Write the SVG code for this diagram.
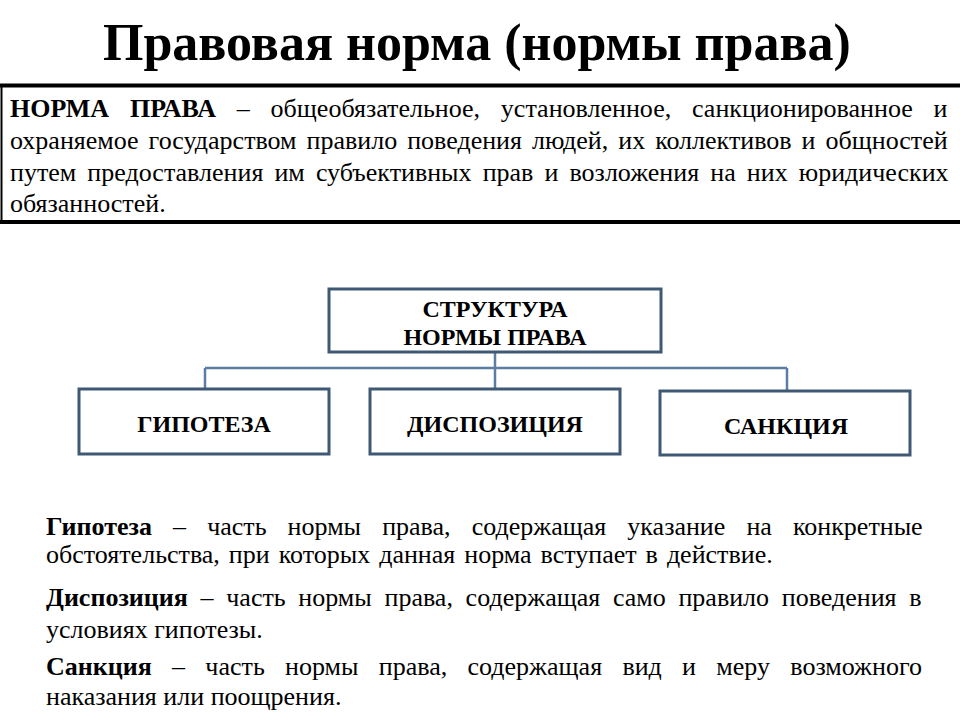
<svg xmlns="http://www.w3.org/2000/svg" width="960" height="720" viewBox="0 0 960 720">
<style>
.t{font-family:"Liberation Serif","Times New Roman",serif;fill:#000}
.title{font-size:52px;font-weight:bold}
.def{font-size:26px}
.b{font-weight:bold}
.box{fill:#fff;stroke:#3f5873;stroke-width:3}
.lbl{font-family:"Liberation Serif","Times New Roman",serif;font-size:24px;font-weight:bold;text-anchor:middle}
.conn{fill:none;stroke:#5b7ca3;stroke-width:2.5}
.body{font-size:26px}
</style>
<rect width="960" height="720" fill="#fff"/>
<text class="t title" x="103" y="60">Правовая норма (нормы права)</text>

<g id="definition">
<line x1="0" y1="85.5" x2="960" y2="85.5" stroke="#000" stroke-width="4"/>
<line x1="0" y1="222" x2="960" y2="222" stroke="#000" stroke-width="4"/>
<line x1="1.5" y1="85" x2="1.5" y2="222" stroke="#000" stroke-width="2"/>
<text class="t def" x="10" y="117" style="word-spacing:14.3px"><tspan class="b">НОРМА ПРАВА</tspan> – общеобязательное, установленное, санкционированное и</text>
<text class="t def" x="10" y="149" style="word-spacing:3.5px">охраняемое государством правило поведения людей, их коллективов и общностей</text>
<text class="t def" x="10" y="181" style="word-spacing:4.6px">путем предоставления им субъективных прав и возложения на них юридических</text>
<text class="t def" x="10" y="212">обязанностей.</text>
</g>

<g id="connectors">
<path class="conn" d="M495 352 V388 M205 368 H787 M205 368 V390 M787 368 V392"/>
</g>

<g id="structure">
<rect class="box" x="329" y="289" width="332" height="63"/>
<text class="lbl" x="495" y="317">СТРУКТУРА</text>
<text class="lbl" x="495" y="345">НОРМЫ ПРАВА</text>
</g>
<g id="hypothesis">
<rect class="box" x="79" y="389" width="250" height="65"/>
<text class="lbl" x="204" y="432">ГИПОТЕЗА</text>
</g>
<g id="disposition">
<rect class="box" x="370" y="389" width="250" height="65"/>
<text class="lbl" x="495" y="432">ДИСПОЗИЦИЯ</text>
</g>
<g id="sanction">
<rect class="box" x="660" y="391" width="250" height="64"/>
<text class="lbl" x="786" y="434">САНКЦИЯ</text>
</g>

<g id="explanations">
<text class="t body" x="46" y="535" style="word-spacing:14.6px"><tspan class="b">Гипотеза</tspan> – часть нормы права, содержащая указание на конкретные</text>
<text class="t body" x="46" y="563" style="word-spacing:2.5px">обстоятельства, при которых данная норма вступает в действие.</text>
<text class="t body" x="46" y="606" style="word-spacing:6.2px"><tspan class="b">Диспозиция</tspan> – часть нормы права, содержащая само правило поведения в</text>
<text class="t body" x="46" y="638">условиях гипотезы.</text>
<text class="t body" x="46" y="675" style="word-spacing:13.8px"><tspan class="b">Санкция</tspan> – часть нормы права, содержащая вид и меру возможного</text>
<text class="t body" x="46" y="705">наказания или поощрения.</text>
</g>
</svg>
